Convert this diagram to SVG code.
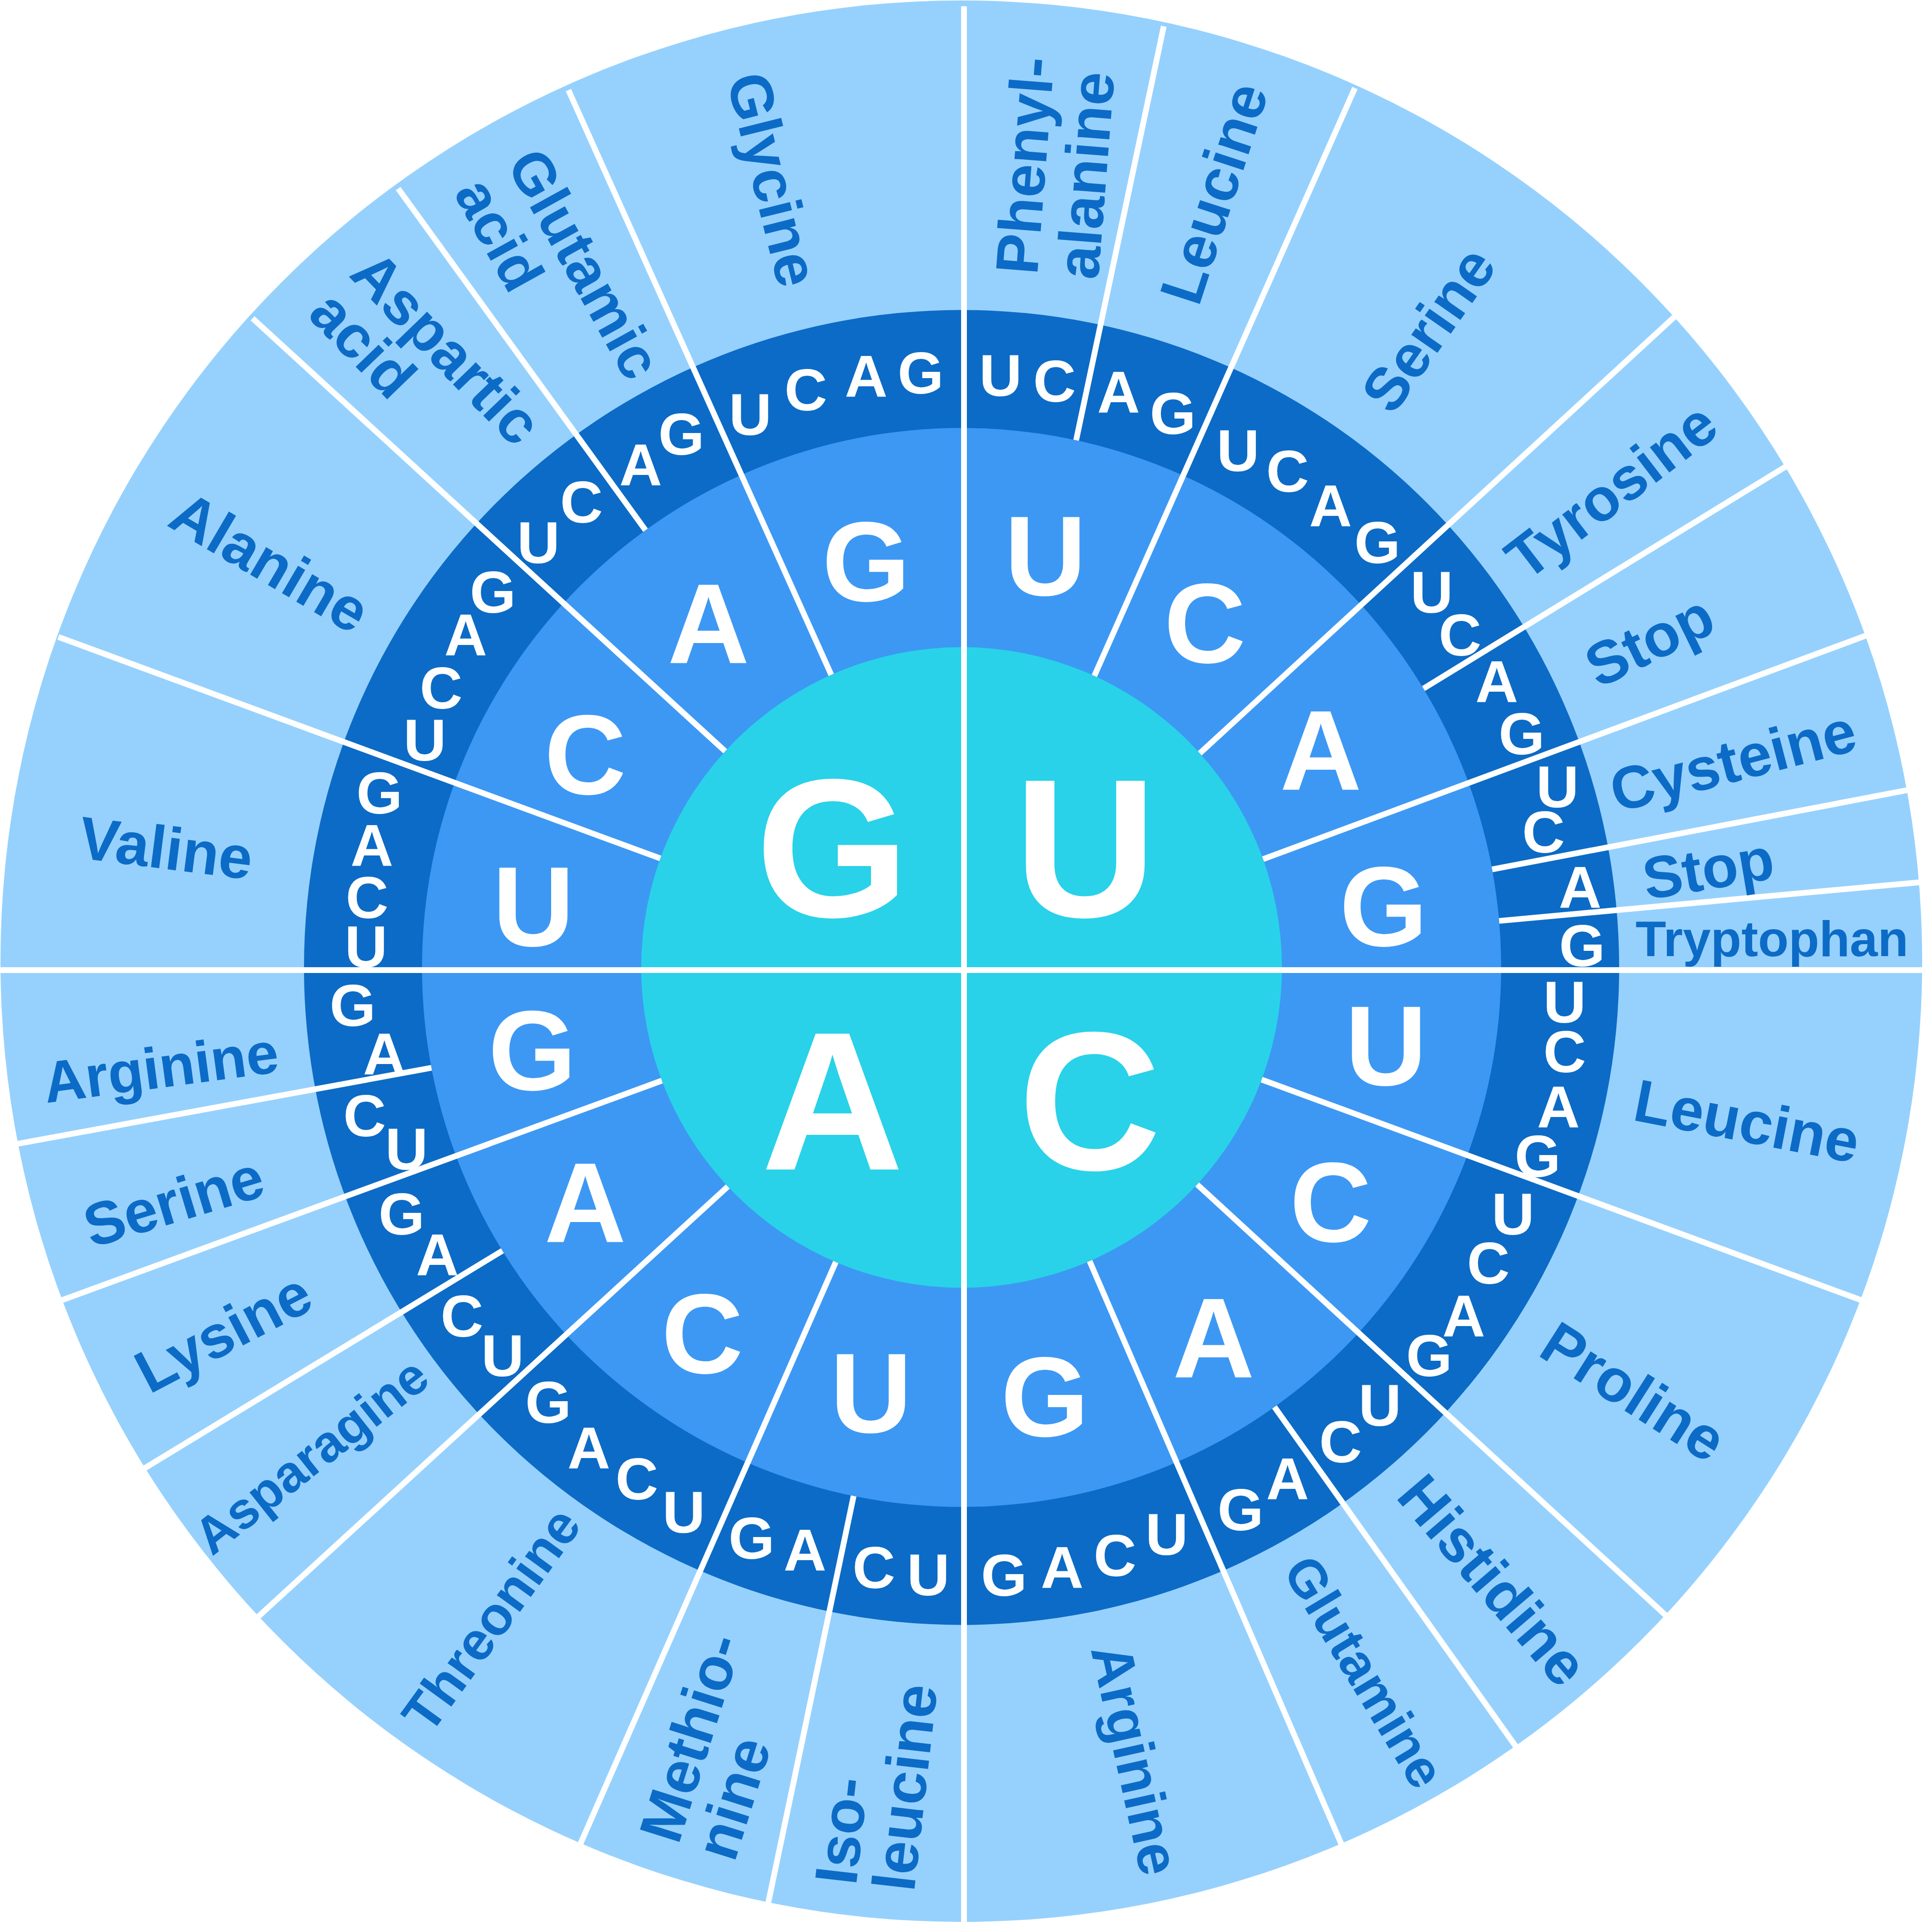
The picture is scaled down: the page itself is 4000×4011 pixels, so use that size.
<svg xmlns="http://www.w3.org/2000/svg" width="4000" height="4011" viewBox="0 0 4000 4011">
<style>
text{font-family:"Liberation Sans",Arial,Helvetica,sans-serif;font-weight:700}
.t1{font-size:410px;fill:#fff;text-anchor:middle}
.t2{font-size:235px;fill:#fff;text-anchor:middle}
.t3{font-size:123px;fill:#fff;text-anchor:middle}
.aa{font-size:125px;fill:#0c6bc6}
.ln{stroke:#fff;stroke-width:12;fill:none}
</style>
<rect width="4000" height="4011" fill="#fff"/>
<g id="rings">
<circle id="ring-amino" cx="1995.5" cy="1995.5" r="1994.5" fill="#96d1fd"/>
<circle id="ring-third" cx="1996" cy="2008.5" r="1365" fill="#0c6bc6"/>
<circle id="ring-second" cx="1996" cy="2008.5" r="1120" fill="#3d98f4"/>
<circle id="ring-first" cx="1996" cy="2008.5" r="665" fill="#29d2e8"/>
</g>
<g id="connectors" class="ln">
<path d="M2233.8 914L2415.7 54.4M2954.8 1429.5L3708.8 967.4M3097.3 1804.9L3968.5 1638.7M3111.8 1911.9L3995.6 1830.7M2645.5 2920.9L3161.3 3646.7M1771.9 3105.8L1589.7 3974.3M1042.9 2596.6L289.6 3054.6M895.6 2216.9L30.9 2375.6M1339.9 1100.8L826.5 391.5"/>
<path d="M2271.6 1403.3L2812.5 182.8M2490.5 1563.9L3475.4 658.2M2621.9 1783.7L3879 1317.4M2618.9 2241.3L3880.8 2705.6M2485.1 2459.1L3475.4 3369.8M2261.8 2618.1L2794.9 3852.9M1734.9 2620.2L1195.9 3848.1M1510.7 2463.3L524.2 3367.2M1373.9 2243.5L120 2702.4M1370.7 1782.1L121.2 1322.4M1505.3 1559.7L524.2 660.8M1725.5 1401L1179.9 187"/>
<path d="M2001 13V4015M0 2014H4002"/>
</g>
<g id="first-letters" class="t1">
<text x="1728" y="1903">G</text>
<text x="2253" y="1903">U</text>
<text x="1728" y="2428">A</text>
<text x="2262" y="2428">C</text>
</g>
<g id="second-letters" class="t2">
<text x="1798" y="1248">G</text>
<text x="1470.6" y="1375.5">A</text>
<text x="1214.8" y="1649.2">C</text>
<text x="1107.4" y="1963.8">U</text>
<text x="1104.8" y="2263">G</text>
<text x="1214.8" y="2577.6">A</text>
<text x="1457.8" y="2851.2">C</text>
<text x="1808" y="2974">U</text>
<text x="2168.8" y="2981.6">G</text>
<text x="2519" y="2859">A</text>
<text x="2762" y="2577.6">C</text>
<text x="2877" y="2252.8">U</text>
<text x="2872" y="1963.8">G</text>
<text x="2741.6" y="1639">A</text>
<text x="2501" y="1375.5">C</text>
<text x="2170" y="1236">U</text>
</g>
<g id="third-letters" class="t3">
<text x="1557.5" y="903.3">U</text><text x="1672.6" y="852.2">C</text><text x="1797.9" y="824">A</text><text x="1911" y="817">G</text>
<text x="2077" y="822">U</text><text x="2189" y="834">C</text><text x="2322" y="857">A</text><text x="2434.7" y="900.8">G</text>
<text x="2570" y="977.5">U</text><text x="2672.6" y="1021">C</text><text x="2762" y="1092.6">A</text><text x="2859" y="1169.3">G</text>
<text x="2971.8" y="1271.6">U</text><text x="3030.6" y="1361">C</text><text x="3107" y="1458.3">A</text><text x="3158.5" y="1565.7">G</text>
<text x="3233" y="1676">U</text><text x="3204" y="1770">C</text><text x="3280" y="1885">A</text><text x="3284" y="2006">G</text>
<text x="3248" y="2123">U</text><text x="3248" y="2225.5">C</text><text x="3235" y="2340.6">A</text><text x="3191.8" y="2443">G</text>
<text x="3140.6" y="2563">U</text><text x="3089.5" y="2665.4">C</text><text x="3038.3" y="2775.4">A</text><text x="2966.7" y="2857">G</text>
<text x="2864.4" y="2959.6">U</text><text x="2782.6" y="3036">C</text><text x="2672.6" y="3113">A</text><text x="2575" y="3177">G</text>
<text x="2422" y="3228">U</text><text x="2314.5" y="3271.6">C</text><text x="2204.6" y="3297">A</text><text x="2084" y="3312.5">G</text>
<text x="1927" y="3312">U</text><text x="1814" y="3297">C</text><text x="1671" y="3261">A</text><text x="1560" y="3236">G</text>
<text x="1419.4" y="3182">U</text><text x="1322" y="3113">C</text><text x="1222.5" y="3049">A</text><text x="1138" y="2954">G</text>
<text x="1043.5" y="2857">U</text><text x="959" y="2775.4">C</text><text x="908" y="2647.5">A</text><text x="833.7" y="2563">G</text>
<text x="844" y="2427.6">U</text><text x="757" y="2358.5">C</text><text x="798" y="2230.7">A</text><text x="732" y="2130">G</text>
<text x="760" y="2008">U</text><text x="762" y="1906">C</text><text x="772" y="1798.4">A</text><text x="787.7" y="1688.5">G</text>
<text x="882" y="1578.5">U</text><text x="915.6" y="1471">C</text><text x="966.7" y="1361">A</text><text x="1023" y="1271.6">G</text>
<text x="1117.6" y="1169.3">U</text><text x="1207" y="1085">C</text><text x="1330" y="1008">A</text><text x="1414.3" y="944">G</text>
</g>
<g id="amino-acids" class="aa">
<g id="aa-phenylalanine"><text transform="translate(2153 572) rotate(-85.5)"><tspan x="0" y="0">Phenyl-</tspan><tspan x="0" y="127">alanine</tspan></text></g>
<g id="aa-leucine-uu"><text transform="translate(2488 639) rotate(-72)">Leucine</text></g>
<g id="aa-serine-uc"><text transform="translate(2891 865) rotate(-55)">Serine</text></g>
<g id="aa-tyrosine"><text transform="translate(3168 1209) rotate(-37.5)">Tyrosine</text></g>
<g id="aa-stop-ua"><text transform="translate(3318 1430) rotate(-26)">Stop</text></g>
<g id="aa-cysteine"><text transform="translate(3356 1687) rotate(-14.6)">Cysteine</text></g>
<g id="aa-stop-uga"><text transform="translate(3418 1868) rotate(-9.5)" style="font-size:123px">Stop</text></g>
<g id="aa-tryptophan"><text transform="translate(3395 1985)" style="font-size:104px">Tryptophan</text></g>
<g id="aa-leucine-cu"><text transform="translate(3386 2325) rotate(11)">Leucine</text></g>
<g id="aa-proline"><text transform="translate(3189 2812) rotate(32.5)">Proline</text></g>
<g id="aa-histidine"><text transform="translate(2895 3108) rotate(49.5)">Histidine</text></g>
<g id="aa-glutamine"><text transform="translate(2661 3260) rotate(59)" style="font-size:110px">Glutamine</text></g>
<g id="aa-arginine-cg"><text transform="translate(2264 3424) rotate(77.5)" style="font-size:120px">Arginine</text></g>
<g id="aa-isoleucine"><text transform="translate(1777 3916) rotate(-83.5)"><tspan x="0" y="0">Iso-</tspan><tspan x="0" y="121">leucine</tspan></text></g>
<g id="aa-methionine"><text transform="translate(1408 3832) rotate(-72.5)"><tspan x="0" y="0">Methio-</tspan><tspan x="0" y="122">nine</tspan></text></g>
<g id="aa-threonine"><text transform="translate(892 3604.5) rotate(-54)" style="font-size:112px">Threonine</text></g>
<g id="aa-asparagine"><text transform="translate(440 3232) rotate(-38.3)" style="font-size:107px">Asparagine</text></g>
<g id="aa-lysine"><text transform="translate(310 2895) rotate(-27.6)">Lysine</text></g>
<g id="aa-serine-ag"><text transform="translate(190 2591) rotate(-16.8)">Serine</text></g>
<g id="aa-arginine-ag"><text transform="translate(96 2290) rotate(-7.6)" style="font-size:121px">Arginine</text></g>
<g id="aa-valine"><text transform="translate(160 1781) rotate(7.2)">Valine</text></g>
<g id="aa-alanine"><text transform="translate(344 1090) rotate(30.4)">Alanine</text></g>
<g id="aa-aspartic-acid"><text transform="translate(722 572) rotate(46)"><tspan x="0" y="0">Aspartic</tspan><tspan x="0" y="120">acid</tspan></text></g>
<g id="aa-glutamic-acid"><text transform="translate(1050 340) rotate(61)" style="font-size:122px"><tspan x="0" y="0">Glutamic</tspan><tspan x="0" y="125">acid</tspan></text></g>
<g id="aa-glycine"><text transform="translate(1508 164) rotate(76)">Glycine</text></g>
</g>
</svg>
